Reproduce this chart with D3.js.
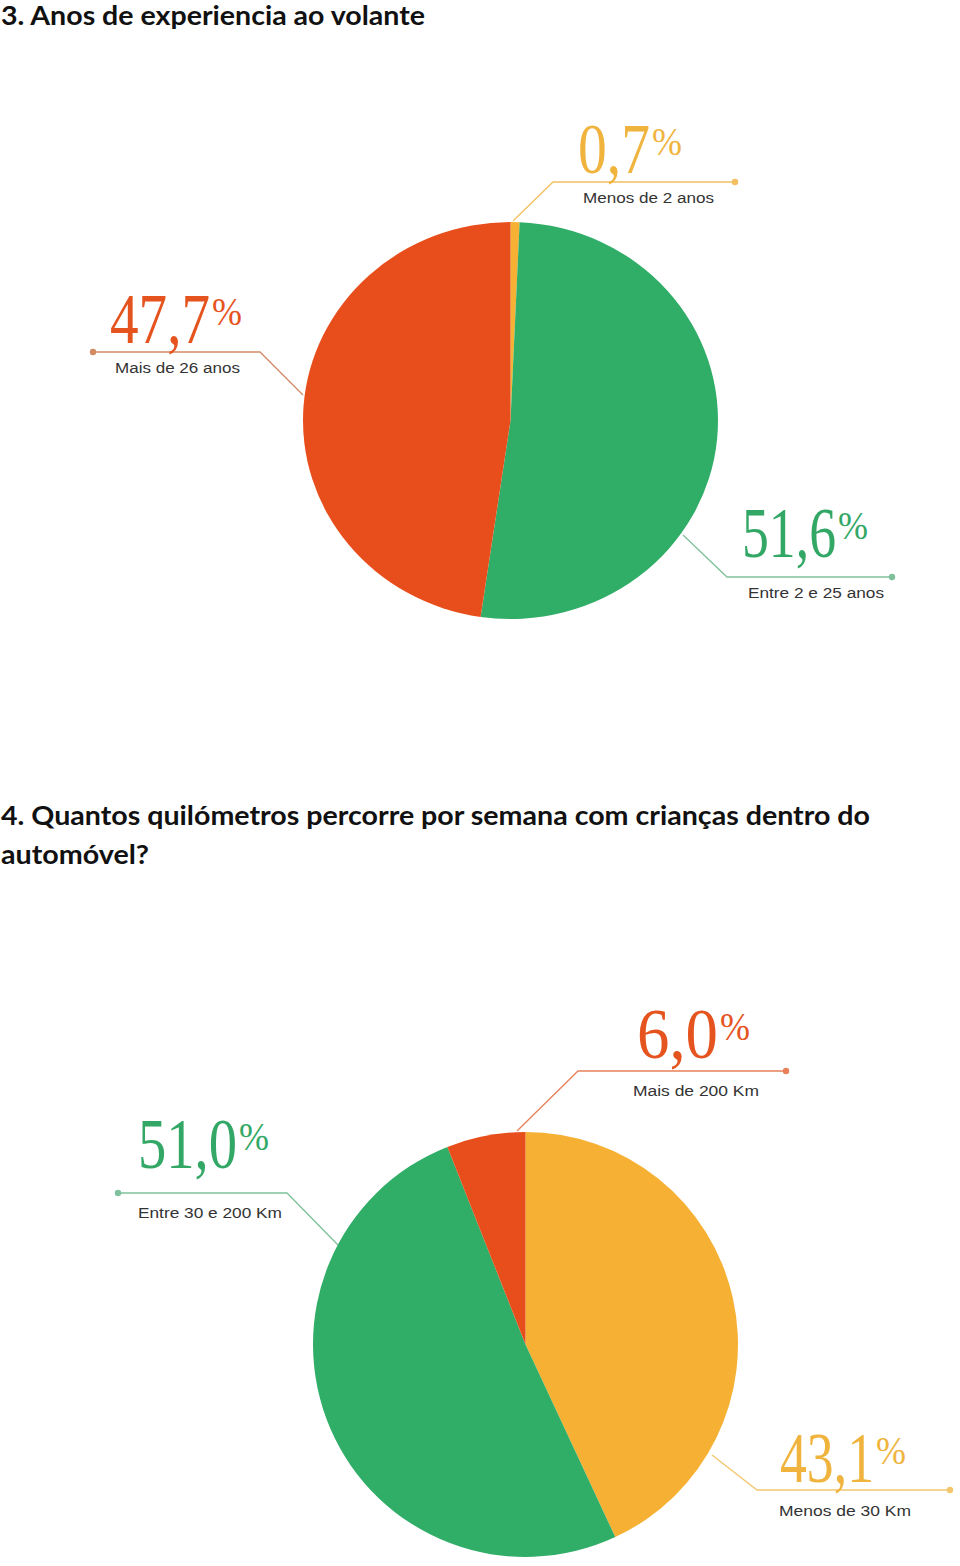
<!DOCTYPE html>
<html><head><meta charset="utf-8">
<script src="https://cdn.jsdelivr.net/npm/d3@7"></script>
<style>html,body{margin:0;padding:0;background:#fff;}svg{display:block;}</style>
</head><body>
<script>
// ---- data ----
const titles1 = ["3. Anos de experiencia ao volante"];
const titles2 = ["4. Quantos quilómetros percorre por semana com crianças dentro do", "automóvel?"];
const cats1 = ["Menos de 2 anos", "Entre 2  e 25 anos", "Mais de 26 anos"];
const vals1 = [0.7, 51.6, 47.7];
const labels1 = ["0,7", "51,6", "47,7"];
const cats2 = ["Menos de 30 Km", "Entre 30 e 200 Km", "Mais de 200 Km"];
const vals2 = [43.1, 51.0, 6.0];
const labels2 = ["43,1", "51,0", "6,0"];

const RED = "#E84E1B", GREEN = "#30AD67", YEL = "#F6B135";
const colors1 = [YEL, GREEN, RED];
const colors2 = [YEL, GREEN, RED];
const textColors1 = ["#F0B43E", "#33A866", "#E5541F"];
const textColors2 = ["#F0B43E", "#33A866", "#E5541F"];
const lineColors1 = ["#F2C060", "#7FC19C", "#D38A62"];
const lineColors2 = ["#F3C66E", "#7FC19C", "#E8805A"];

const W = 960, H = 1566;
const svg = d3.select("body").append("svg").attr("width", W).attr("height", H);

const titleFont = "Lato, 'Open Sans', sans-serif";
function title(txt, x, y, len) {
  svg.append("text").attr("x", x).attr("y", y).text(txt)
    .attr("font-family", titleFont).attr("font-weight", 700).attr("font-size", 27)
    .attr("fill", "#111").attr("textLength", len).attr("lengthAdjust", "spacingAndGlyphs");
}
title(titles1[0], 1, 25, 424);
title(titles2[0], 1, 825, 869);
title(titles2[1], 1, 864, 148);

// layout per chart
const layout1 = {
  cx: 510.5, cy: 420.5, rx: 207.5, ry: 198.5, start: 0,
  items: [
    {pct:[578,173,104], lab:[583,203,131], line:[[513,221],[553,182],[735,182]]},
    {pct:[742,557,126], lab:[748,598,136], line:[[683,535],[727,577],[892,577]]},
    {pct:[110,343,132], lab:[115,373,125], line:[[303,395],[260,352],[93,352]]}
  ]
};
const layout2 = {
  cx: 525.5, cy: 1344.5, rx: 212.5, ry: 212.5, start: 0,
  items: [
    {pct:[780,1482,126], lab:[779,1516,132], line:[[712,1455],[757,1490],[950,1490]]},
    {pct:[138,1168,131], lab:[138,1218,144], line:[[338,1245],[287,1193],[118,1193]]},
    {pct:[637,1058,113], lab:[633,1096,126], line:[[517,1131],[578,1071],[786,1071]]}
  ]
};

function drawPie(vals, cats, labels, colors, textColors, lineColors, L) {
  const pie = d3.pie().sort(null).value(d => d).startAngle(L.start).endAngle(L.start + 2 * Math.PI);
  const arcs = pie(vals);
  const arc = d3.arc().innerRadius(0).outerRadius(L.rx);
  const g = svg.append("g").attr("transform", `translate(${L.cx},${L.cy}) scale(1,${L.ry / L.rx})`);
  g.selectAll("path").data(arcs).join("path").attr("d", arc).attr("fill", (d, i) => colors[i]);

  L.items.forEach((it, i) => {
    const line = d3.line();
    svg.append("path").attr("d", line(it.line)).attr("fill", "none")
      .attr("stroke", lineColors[i]).attr("stroke-width", 1.3);
    const end = it.line[it.line.length - 1];
    svg.append("circle").attr("cx", end[0]).attr("cy", end[1]).attr("r", 3.2).attr("fill", lineColors[i]);
    const pw = 30;
    svg.append("text").attr("x", it.pct[0]).attr("y", it.pct[1]).text(labels[i])
      .attr("font-family", "'Liberation Serif', 'DejaVu Serif', serif").attr("fill", textColors[i])
      .attr("font-size", 72)
      .attr("textLength", it.pct[2] - pw - 2).attr("lengthAdjust", "spacingAndGlyphs");
    svg.append("text").attr("x", it.pct[0] + it.pct[2] - pw).attr("y", it.pct[1] - 18).text("%")
      .attr("font-family", "'Liberation Serif', 'DejaVu Serif', serif").attr("fill", textColors[i])
      .attr("font-size", 40)
      .attr("textLength", pw).attr("lengthAdjust", "spacingAndGlyphs");
    svg.append("text").attr("x", it.lab[0]).attr("y", it.lab[1]).text(cats[i])
      .attr("font-family", "'Liberation Sans', Arial, sans-serif").attr("font-size", 15.5)
      .attr("fill", "#333").attr("textLength", it.lab[2]).attr("lengthAdjust", "spacingAndGlyphs");
  });
}
drawPie(vals1, cats1, labels1, colors1, textColors1, lineColors1, layout1);
drawPie(vals2, cats2, labels2, colors2, textColors2, lineColors2, layout2);
</script>
</body></html>
